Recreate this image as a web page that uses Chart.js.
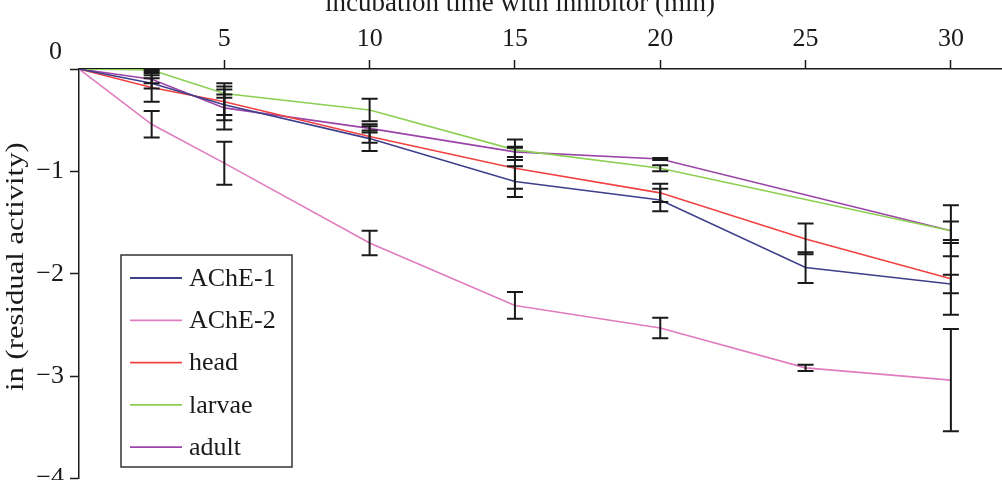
<!DOCTYPE html>
<html>
<head>
<meta charset="utf-8">
<script src="https://cdn.jsdelivr.net/npm/chart.js@4.4.1/dist/chart.umd.min.js"></script>
<style>
    html, body { margin: 0; padding: 0; background: #fff; overflow: hidden; width: 1002px; height: 480px; }
    #wrap { position: absolute; left: 0; top: -20px; width: 1020px; height: 520px; }
</style>
</head>
<body>
<div id="wrap"><canvas id="inhibition-chart" width="1020" height="520"></canvas></div>
<script>
// incubation times (min)
const times = [0, 2.5, 5, 10, 15, 20, 25, 30];
const xTicks = [5, 10, 15, 20, 25, 30];
const yTicks = [0, -1, -2, -3, -4];

// ln (residual activity) and error for each sample
const ache1 = [0, -0.14, -0.35, -0.68, -1.10, -1.28, -1.94, -2.10];
const ache1Err = [0, 0.05, 0.10, 0.12, 0.15, 0.11, 0.15, 0.09];
const ache2 = [0, -0.54, -0.92, -1.70, -2.31, -2.53, -2.92, -3.04];
const ache2Err = [0, 0.13, 0.21, 0.12, 0.13, 0.10, 0.03, 0.50];
const head = [0, -0.18, -0.32, -0.66, -0.97, -1.21, -1.66, -2.05];
const headErr = [0, 0.14, 0.18, 0.06, 0.20, 0.09, 0.15, 0.35];
const larvae = [0, -0.01, -0.24, -0.40, -0.79, -0.97, null, -1.58];
const larvaeErr = [0, 0.01, 0.04, 0.11, 0.10, 0.03, null, 0.09];
const adult = [0, -0.10, -0.38, -0.58, -0.81, -0.88, null, -1.58];
const adultErr = [0, 0.04, 0.21, 0.04, 0.05, 0.01, null, 0.25];

const seriesNames = ['AChE-1', 'AChE-2', 'head', 'larvae', 'adult'];
const seriesValues = [ache1, ache2, head, larvae, adult];
const seriesErrors = [ache1Err, ache2Err, headErr, larvaeErr, adultErr];
const seriesColors = ['#3f3f8c', '#e07cbf', '#f04242', '#8ccf52', '#9b45a8'];

const serif = "'Liberation Serif', 'DejaVu Serif', serif";
const ink = '#1a1a1a';

const datasets = seriesNames.map((name, i) => {
    return {
        label: name,
        data: times.map((t, j) => ({ x: t, y: seriesValues[i][j] })),
        errors: seriesErrors[i],
        borderColor: seriesColors[i],
        backgroundColor: seriesColors[i],
        borderWidth: 1.6,
        pointRadius: 0,
        tension: 0,
        spanGaps: true,
        fill: false,
    };
});

// error bars, corner zero, axis captions and boxed legend
const extrasPlugin = {
    id: 'extras',
    afterDatasetsDraw(chart) {
        const ctx = chart.ctx;
        const xs = chart.scales.x;
        const ys = chart.scales.y;
        ctx.save();
        ctx.strokeStyle = ink;
        ctx.lineWidth = 2;
        chart.data.datasets.forEach(ds => {
            ds.data.forEach((pt, j) => {
                const e = ds.errors[j];
                if (pt.y === null || !e) return;
                const px = xs.getPixelForValue(pt.x);
                const top = ys.getPixelForValue(pt.y + e);
                const bot = ys.getPixelForValue(pt.y - e);
                ctx.beginPath();
                ctx.moveTo(px, top);
                ctx.lineTo(px, bot);
                ctx.moveTo(px - 8, top);
                ctx.lineTo(px + 8, top);
                ctx.moveTo(px - 8, bot);
                ctx.lineTo(px + 8, bot);
                ctx.stroke();
            });
        });
        ctx.restore();
    },
    afterDraw(chart) {
        const ctx = chart.ctx;
        const area = chart.chartArea;
        ctx.save();
        ctx.fillStyle = ink;
        ctx.font = '26px ' + serif;

        // shared origin label
        ctx.textAlign = 'right';
        ctx.textBaseline = 'middle';
        ctx.fillText('0', area.left - 17, area.top - 17);

        // x axis caption (cut off at the top)
        ctx.font = '27px ' + serif;
        ctx.textAlign = 'center';
        ctx.textBaseline = 'alphabetic';
        ctx.fillText('incubation time with inhibitor (min)', area.left + 441, area.top - 58);

        // y axis caption, stretched along its length like the original
        ctx.save();
        ctx.translate(area.left - 63, (area.top + area.bottom) / 2 - 7);
        ctx.rotate(-Math.PI / 2);
        ctx.scale(1.18, 1);
        ctx.font = '26px ' + serif;
        ctx.textBaseline = 'middle';
        ctx.fillText('in (residual activity)', 0, 0);
        ctx.restore();

        // legend box
        const bx = area.left + 42, by = area.top + 186, bw = 171, bh = 212;
        ctx.font = '26px ' + serif;
        ctx.strokeStyle = '#333';
        ctx.lineWidth = 1.5;
        ctx.strokeRect(bx, by, bw, bh);
        ctx.textAlign = 'left';
        ctx.textBaseline = 'middle';
        chart.data.datasets.forEach((ds, i) => {
            const ry = by + 23 + i * 42.3;
            ctx.strokeStyle = ds.borderColor;
            ctx.lineWidth = 1.8;
            ctx.beginPath();
            ctx.moveTo(bx + 9, ry);
            ctx.lineTo(bx + 61, ry);
            ctx.stroke();
            ctx.fillStyle = ink;
            ctx.fillText(ds.label, bx + 68, ry + 1);
        });
        ctx.restore();
    }
};

const ctx = document.getElementById('inhibition-chart').getContext('2d');
const inhibitionChart = new Chart(ctx, {
    type: 'line',
    data: { datasets: datasets },
    plugins: [extrasPlugin],
    options: {
        responsive: false,
        animation: false,
        layout: { padding: { top: 0, left: 0, right: 11, bottom: 19 } },
        plugins: {
            legend: { display: false },
            tooltip: { enabled: false },
        },
        scales: {
            x: {
                type: 'linear',
                position: 'top',
                min: 0,
                max: 32,
                afterBuildTicks: scale => { scale.ticks = xTicks.map(v => ({ value: v })); },
                afterFit: scale => { scale.height = 89; },
                grid: { display: true, drawOnChartArea: false, drawTicks: true, tickLength: 9, color: ink, tickWidth: 1.5 },
                border: { display: true, color: ink, width: 1.5 },
                ticks: { color: ink, padding: 5, maxRotation: 0, font: { family: serif, size: 26 } },
            },
            y: {
                type: 'linear',
                min: -4,
                max: 0,
                afterBuildTicks: scale => { scale.ticks = yTicks.map(v => ({ value: v })); },
                afterFit: scale => { scale.width = 79; },
                grid: { display: true, drawOnChartArea: false, drawTicks: true, tickLength: 9, color: ink, tickWidth: 1.5 },
                border: { display: true, color: ink, width: 1.5 },
                ticks: {
                    color: ink,
                    padding: 6,
                    font: { family: serif, size: 26 },
                    callback: v => v === 0 ? '' : '\u2212' + Math.abs(v),
                },
            },
        },
    },
});
</script>
</body>
</html>
